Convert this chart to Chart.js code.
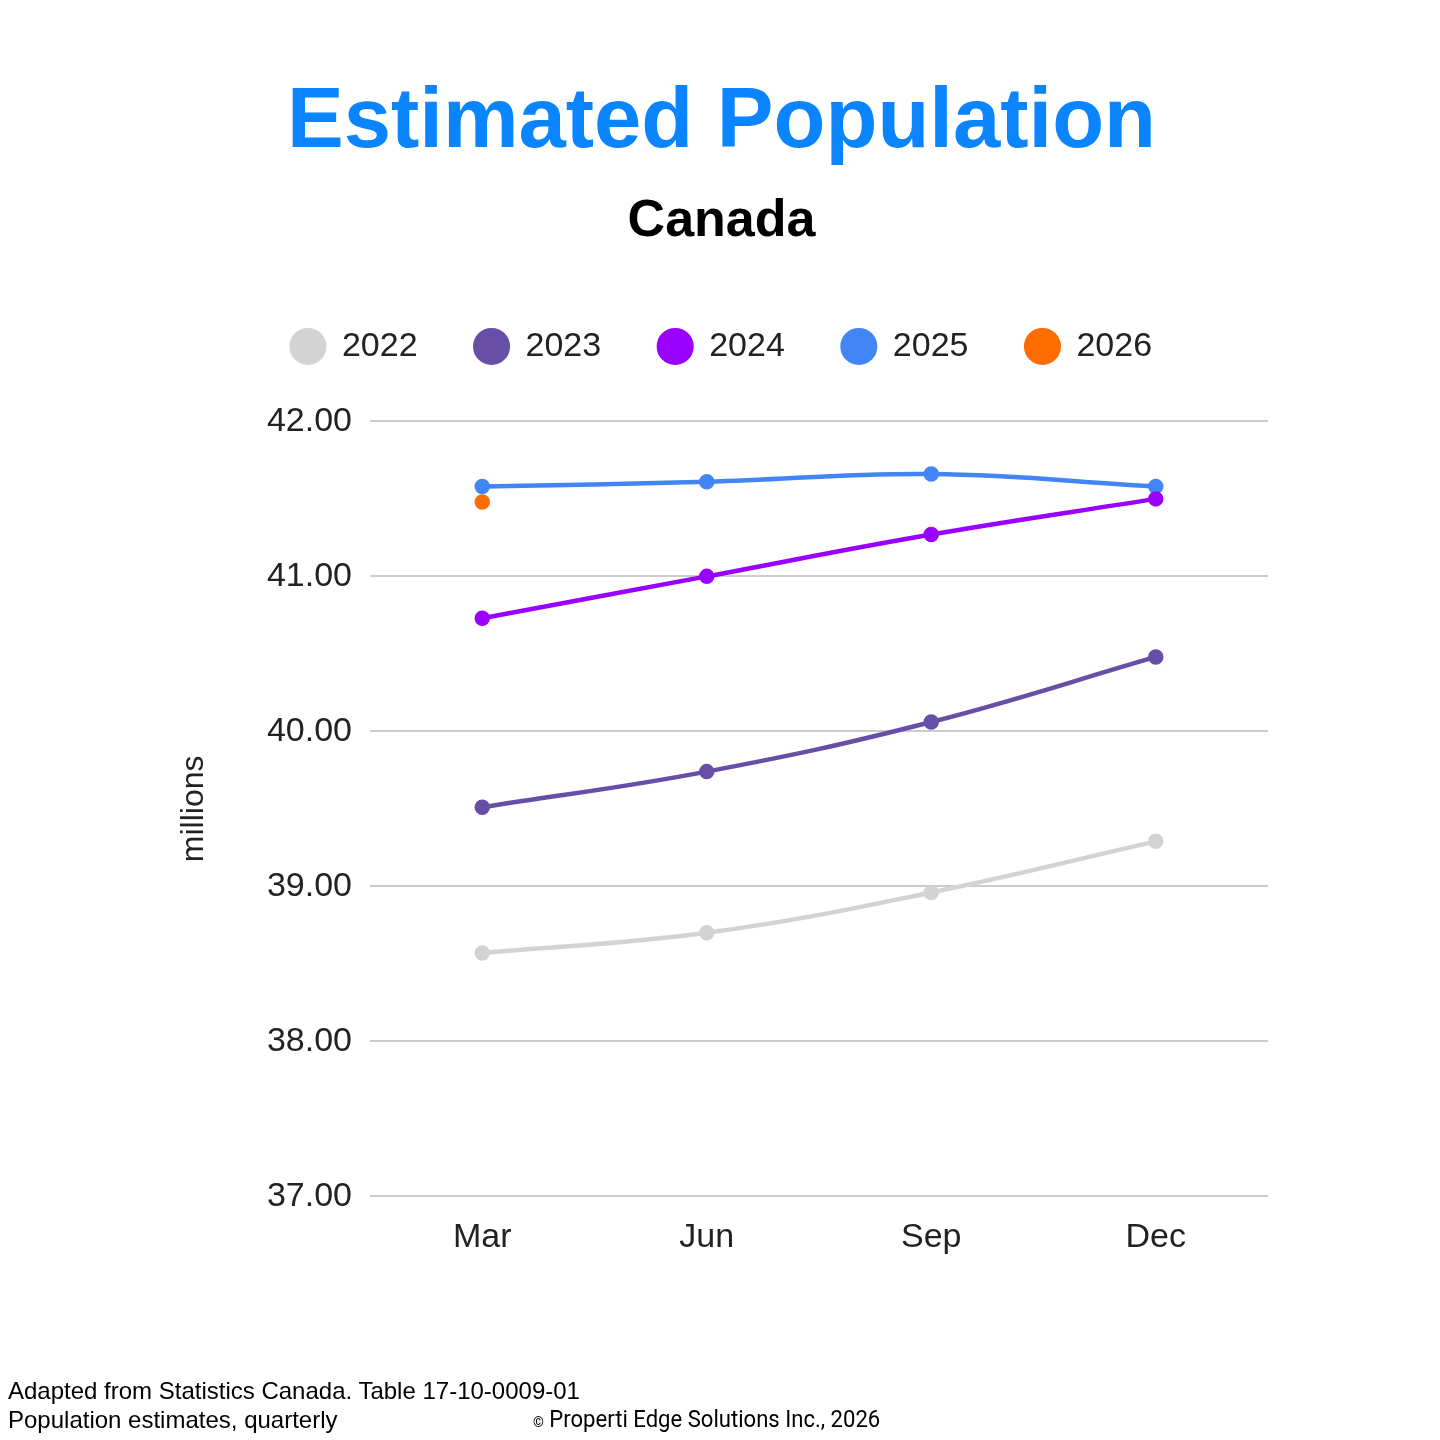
<!DOCTYPE html>
<html>
<head>
<meta charset="utf-8">
<script src="https://cdn.jsdelivr.net/npm/chart.js@4"></script>
<style>
  html, body { margin: 0; padding: 0; background: #fff; }
  #wrap { position: relative; width: 1440px; height: 1440px; }
  .foot { position: absolute; font-family: "Liberation Sans", Arial, sans-serif; font-size: 24px; color: #000; white-space: nowrap; }
  .copy { position: absolute; font-family: Roboto, sans-serif; font-size: 24px; color: #000; white-space: nowrap; transform: scaleX(0.92); transform-origin: left top; }
</style>
</head>
<body>
<div id="wrap">
  <canvas id="popChart" width="1440" height="1440"></canvas>
  <div class="foot" style="left:8px; top:1377px;">Adapted from Statistics Canada. Table 17-10-0009-01</div>
  <div class="foot" style="left:8px; top:1406px;">Population estimates, quarterly</div>
  <div class="copy" style="left:533px; top:1405px;"><span style="font-size:15px;">©</span> Properti Edge Solutions Inc., 2026</div>
</div>
<script>
const quarters = ["Mar", "Jun", "Sep", "Dec"];
const years = ["2022", "2023", "2024", "2025", "2026"];
const pop2022 = [38.57, 38.70, 38.96, 39.29];
const pop2023 = [39.51, 39.74, 40.06, 40.48];
const pop2024 = [40.73, 41.00, 41.27, 41.50];
const pop2025 = [41.58, 41.61, 41.66, 41.58];
const pop2026 = [41.48, null, null, null];
const yTicks = [37, 38, 39, 40, 41, 42];

const colors = ["#d3d3d3", "#674ea7", "#9900ff", "#4285f4", "#ff6d01"];
const series = [pop2022, pop2023, pop2024, pop2025, pop2026];

// extra room under the legend
const legendGap = {
  id: "legendGap",
  beforeInit(chart) {
    const fit = chart.legend.fit;
    chart.legend.fit = function () {
      fit.bind(chart.legend)();
      this.height += 48;
    };
  }
};

document.addEventListener("DOMContentLoaded", () => {
  const ctx = document.getElementById("popChart").getContext("2d");
  new Chart(ctx, {
    type: "line",
    data: {
      labels: quarters,
      datasets: series.map((d, i) => ({
        label: years[i],
        data: d,
        borderColor: colors[i],
        backgroundColor: colors[i],
        borderWidth: 4.5,
        pointRadius: 5.5,
        pointHoverRadius: 5.5,
        tension: 0.4,
        spanGaps: false
      }))
    },
    plugins: [legendGap],
    options: {
      responsive: false,
      animation: false,
      layout: { padding: { left: 175, right: 172, top: 0, bottom: 161 } },
      plugins: {
        title: {
          display: true,
          text: "Estimated Population",
          color: "#0a84ff",
          font: { family: "Liberation Sans", size: 85, weight: "bold" },
          padding: { top: 73, bottom: 15 }
        },
        subtitle: {
          display: true,
          text: "Canada",
          color: "#000",
          font: { family: "Liberation Sans", size: 52, weight: "bold" },
          padding: { top: 0, bottom: 20 }
        },
        legend: {
          position: "top",
          labels: {
            usePointStyle: true,
            pointStyle: "circle",
            boxHeight: 23,
            boxWidth: 34,
            padding: 57,
            color: "#222",
            font: { family: "Liberation Sans", size: 34 }
          }
        },
        tooltip: { enabled: false }
      },
      scales: {
        x: {
          offset: true,
          grid: { display: false, drawTicks: false },
          border: { display: false },
          ticks: { color: "#222", padding: 21, font: { family: "Liberation Sans", size: 34 } }
        },
        y: {
          min: 37,
          max: 42,
          afterBuildTicks: (s) => { s.ticks = yTicks.map(v => ({ value: v })); },
          afterFit: (s) => { s.width = 195; },
          grid: { color: "#cccccc", lineWidth: 2, drawTicks: false },
          border: { display: false },
          ticks: {
            color: "#222",
            padding: 18,
            font: { family: "Liberation Sans", size: 34 },
            callback: (v) => Number(v).toFixed(2)
          },
          title: {
            display: true,
            text: "millions",
            color: "#222",
            padding: { top: 0, bottom: 0 },
            font: { family: "Liberation Sans", size: 32 }
          }
        }
      }
    }
  });
});
</script>
</body>
</html>
